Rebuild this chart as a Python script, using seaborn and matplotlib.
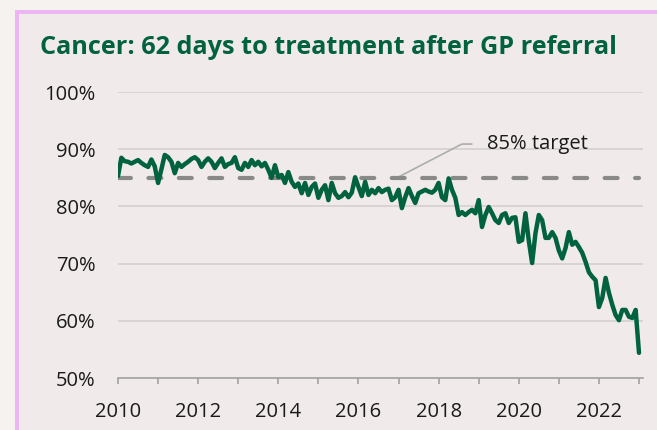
import pandas as pd
import seaborn as sns
import matplotlib.pyplot as plt
from matplotlib.patches import Rectangle
from matplotlib.ticker import MultipleLocator, FuncFormatter

# Monthly % of patients treated within 62 days of GP referral (from Jan 2010)
START = "2010-01-01"
pct_2010_2013 = [85.3, 88.5, 87.9, 87.8, 87.5, 87.8, 88.1, 87.6, 87.2, 86.9, 88.2, 87.0,
                 84.1, 86.5, 89.0, 88.6, 87.8, 85.8, 87.6, 86.9, 87.4, 87.8, 88.3, 88.6,
                 88.1, 86.9, 87.8, 88.4, 87.8, 86.7, 87.6, 88.4, 86.9, 87.4, 87.6, 88.6,
                 86.7]
pct_2013_2016 = [86.4, 87.6, 86.9, 88.1, 87.2, 87.8, 87.0, 87.6, 86.4, 85.0, 87.2, 85.1,
                 85.5, 84.1, 86.0, 84.3, 83.4, 84.0, 82.3, 84.1, 82.0, 83.4, 84.0, 81.5,
                 82.9, 83.7, 81.1, 84.1, 82.3, 81.5, 81.8, 82.5, 81.6, 82.4, 85.1, 83.4,
                 81.8, 84.3, 82.0, 82.9]
pct_2016_2019 = [82.3, 83.2, 82.5, 82.9, 83.1, 81.1, 81.6, 82.9, 79.7, 81.6, 83.2, 81.8,
                 80.6, 82.3, 82.6, 82.9, 82.6, 82.4, 82.9, 84.1, 81.6, 81.1, 84.9, 82.9,
                 81.5, 78.5, 79.0, 78.5, 79.0, 79.4, 78.8, 81.1, 76.4, 78.5, 79.9, 78.8,
                 77.6, 77.1]
pct_2019_2023 = [78.5, 78.8, 77.1, 78.0, 78.1, 73.8, 74.1, 78.8, 74.0, 70.1, 75.3, 78.5,
                 77.6, 74.5, 74.5, 75.5, 74.5, 72.3, 70.9, 72.7, 75.5, 73.3, 73.8, 72.9,
                 71.9, 70.3, 68.5, 67.7, 67.1, 62.4, 64.0, 67.5, 64.9, 62.8, 61.0, 60.1,
                 61.9, 61.9, 60.7, 60.5, 61.9, 54.4]
TARGET = 85
TARGET_LABEL = "85% target"
TITLE = "Cancer: 62 days to treatment after GP referral"
YTICKS = [50, 60, 70, 80, 90, 100]

GREEN = "#00623f"
OUTER_BG = "#f6f2f0"
PANEL_BG = "#f0eaea"
PINK = "#ecb6f3"

values = pct_2010_2013 + pct_2013_2016 + pct_2016_2019 + pct_2019_2023
dates = pd.date_range(START, periods=len(values), freq="MS")
df = pd.DataFrame({"year": dates.year + (dates.month - 1) / 12, "pct": values})

sns.set_theme(style="white")
plt.rcParams["font.family"] = ["Open Sans", "DejaVu Sans"]

W, H = 657, 430
fig = plt.figure(figsize=(W / 100, H / 100), dpi=100)
fig.patch.set_facecolor(OUTER_BG)

# panel with pink left/top border
fig.add_artist(Rectangle((15 / W, 0), 1, (H - 10) / H, transform=fig.transFigure,
                         facecolor=PANEL_BG, edgecolor="none", zorder=-2))
fig.add_artist(Rectangle((15 / W, 0), 4 / W, (H - 10) / H, transform=fig.transFigure,
                         facecolor=PINK, edgecolor="none", zorder=-1))
fig.add_artist(Rectangle((15 / W, (H - 14) / H), 1, 4 / H, transform=fig.transFigure,
                         facecolor=PINK, edgecolor="none", zorder=-1))

ax = fig.add_axes([118 / W, (H - 378) / H, 525 / W, 286 / H])
ax.set_facecolor("none")

ax.hlines(TARGET, 2010, 2023.0, color="#898989", lw=3, linestyles=(0, (3.1, 4.2)),
          capstyle="round", zorder=2)
for c in ax.collections:
    c.set_capstyle("round")

sns.lineplot(data=df, x="year", y="pct", color=GREEN, lw=3.2, ax=ax, zorder=3)
for ln in ax.lines:
    ln.set_solid_joinstyle("round")

ax.set_xlim(2010, 2023.1)
ax.set_ylim(50, 100)
ax.set_yticks(YTICKS)
ax.yaxis.set_major_formatter(FuncFormatter(lambda v, p: f"{v:.0f}%"))
ax.xaxis.set_major_locator(MultipleLocator(1))
ax.xaxis.set_major_formatter(FuncFormatter(lambda v, p: f"{v:.0f}" if int(round(v)) % 2 == 0 else ""))
ax.grid(axis="y", color="#d9d4d4", lw=1.4)
ax.set_axisbelow(True)
for s in ["left", "right", "top"]:
    ax.spines[s].set_visible(False)
ax.spines["bottom"].set_color("#a3a3a3")
ax.spines["bottom"].set_linewidth(1.2)
ax.tick_params(axis="x", length=4.5, width=1.2, color="#a3a3a3", pad=13,
               labelsize=14.5, labelcolor="#1a1a1a", bottom=True)
ax.tick_params(axis="y", length=0, pad=16, labelsize=14.5, labelcolor="#1a1a1a")
ax.set_xlabel("")
ax.set_ylabel("")

# target annotation
ax.plot([2016.96, 2018.58, 2018.83], [85, 90.9, 90.9], color="#adadad", lw=1.2, zorder=1)
ax.text(2019.2, 90.9, TARGET_LABEL, va="center", ha="left", fontsize=14.5, color="#1a1a1a")

title = fig.text(40 / W, (H - 54) / H, TITLE, ha="left", va="baseline",
                 fontsize=17, fontweight="bold", color=GREEN)
fig.canvas.draw()
tw = title.get_window_extent().width
title.set_fontsize(17 * 578 / tw)

fig.savefig("out.png", dpi=100, facecolor=fig.get_facecolor())
